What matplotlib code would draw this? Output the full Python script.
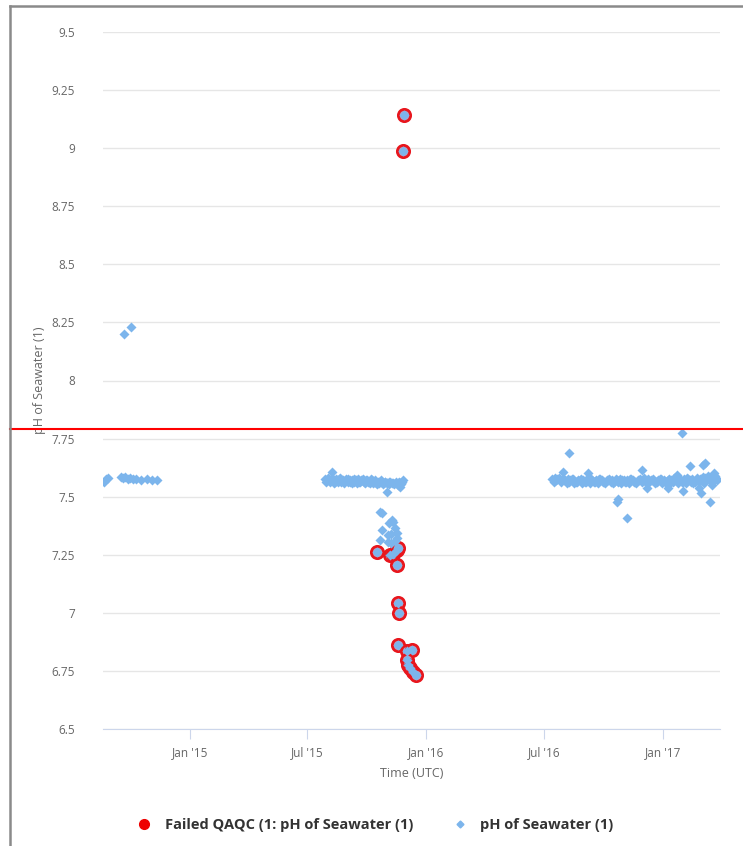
import matplotlib
matplotlib.use("Agg")
import matplotlib.pyplot as plt
import matplotlib.dates as mdates
from matplotlib.lines import Line2D
from matplotlib.ticker import FuncFormatter, MultipleLocator
import numpy as np
import pandas as pd

plt.rcParams['font.family'] = ['Open Sans', 'DejaVu Sans']

# pH of Seawater (1) -- deployment 1
dep1_dates = ['2014-08-22', '2014-08-25', '2014-08-28', '2014-09-17', '2014-09-20',
              '2014-09-22', '2014-09-23', '2014-09-27', '2014-10-01', '2014-10-02',
              '2014-10-05', '2014-10-10', '2014-10-18', '2014-10-27', '2014-11-04',
              '2014-11-12']
dep1_ph = [7.565, 7.575, 7.58, 7.585, 7.58,
           8.20, 7.585, 7.575, 7.58, 8.23,
           7.575, 7.575, 7.57, 7.575, 7.57,
           7.57]

# deployment 2
dep2_dates = ['2015-07-29', '2015-08-01', '2015-08-04', '2015-08-07', '2015-08-08',
              '2015-08-10', '2015-08-13', '2015-08-16', '2015-08-19', '2015-08-22',
              '2015-08-25', '2015-08-28', '2015-08-31', '2015-09-03', '2015-09-06',
              '2015-09-09', '2015-09-12', '2015-09-15', '2015-09-18', '2015-09-21',
              '2015-09-24', '2015-09-27', '2015-09-30', '2015-10-03', '2015-10-06',
              '2015-10-09', '2015-10-12', '2015-10-15', '2015-10-18', '2015-10-21',
              '2015-10-22', '2015-10-24', '2015-10-25', '2015-10-27', '2015-10-30',
              '2015-11-01', '2015-11-02', '2015-11-03', '2015-11-05', '2015-11-05',
              '2015-11-08', '2015-11-09', '2015-11-11', '2015-11-11', '2015-11-14',
              '2015-11-17', '2015-11-18', '2015-11-20', '2015-11-21', '2015-11-23',
              '2015-11-24', '2015-11-26', '2015-10-22', '2015-10-25', '2015-11-03',
              '2015-11-08', '2015-11-14', '2015-11-17']
dep2_ph = [7.575, 7.57, 7.575, 7.57, 7.606,
           7.575, 7.565, 7.57, 7.575, 7.565,
           7.57, 7.565, 7.57, 7.575, 7.565,
           7.57, 7.565, 7.57, 7.575, 7.565,
           7.57, 7.565, 7.57, 7.565, 7.56,
           7.57, 7.565, 7.56, 7.565, 7.56,
           7.434, 7.565, 7.43, 7.56, 7.565,
           7.52, 7.56, 7.305, 7.387, 7.565,
           7.34, 7.40, 7.39, 7.56, 7.365,
           7.32, 7.56, 7.565, 7.54, 7.56,
           7.555, 7.57, 7.313, 7.356, 7.335,
           7.30, 7.31, 7.345]
dep2b_dates = ['2015-07-31', '2015-08-03', '2015-08-06', '2015-08-09', '2015-08-12',
               '2015-08-15', '2015-08-18', '2015-08-21', '2015-08-24', '2015-08-27',
               '2015-08-30', '2015-09-02', '2015-09-05', '2015-09-08', '2015-09-11',
               '2015-09-14', '2015-09-17', '2015-09-20', '2015-09-23', '2015-09-26',
               '2015-09-29', '2015-10-02', '2015-10-05', '2015-10-08', '2015-10-11',
               '2015-10-14', '2015-10-17', '2015-10-20', '2015-10-23', '2015-10-26',
               '2015-10-29', '2015-11-01', '2015-11-04', '2015-11-07', '2015-11-10',
               '2015-11-13', '2015-11-16', '2015-11-19', '2015-11-22', '2015-11-25']
dep2b_ph = [7.565, 7.58, 7.565, 7.575, 7.56,
            7.575, 7.565, 7.58, 7.57, 7.56,
            7.575, 7.565, 7.57, 7.56, 7.575,
            7.57, 7.56, 7.565, 7.57, 7.575,
            7.56, 7.57, 7.565, 7.575, 7.56,
            7.57, 7.555, 7.565, 7.57, 7.555,
            7.565, 7.56, 7.555, 7.565, 7.56,
            7.555, 7.565, 7.55, 7.56, 7.565]

# deployment 3
dep3_dates = ['2016-07-14', '2016-07-18', '2016-07-22', '2016-07-26', '2016-07-30',
              '2016-07-31', '2016-08-03', '2016-08-07', '2016-08-09', '2016-08-11',
              '2016-08-15', '2016-08-19', '2016-08-23', '2016-08-27', '2016-08-31',
              '2016-09-04', '2016-09-07', '2016-09-08', '2016-09-12', '2016-09-16',
              '2016-09-20', '2016-09-24', '2016-09-28', '2016-10-02', '2016-10-06',
              '2016-10-10', '2016-10-14', '2016-10-18', '2016-10-22', '2016-10-22',
              '2016-10-24', '2016-10-26', '2016-10-30', '2016-11-03', '2016-11-07',
              '2016-11-07', '2016-11-11', '2016-11-15', '2016-11-19', '2016-11-23',
              '2016-11-27', '2016-11-30', '2016-12-01', '2016-12-05', '2016-12-08',
              '2016-12-09', '2016-12-13', '2016-12-17', '2016-12-21', '2016-12-25',
              '2016-12-29', '2017-01-02', '2017-01-06', '2017-01-08', '2017-01-10',
              '2017-01-14', '2017-01-18', '2017-01-22', '2017-01-23', '2017-01-26',
              '2017-01-30', '2017-01-31', '2017-02-01', '2017-02-03', '2017-02-07',
              '2017-02-11', '2017-02-11', '2017-02-15', '2017-02-19', '2017-02-23',
              '2017-02-25', '2017-02-27', '2017-02-28', '2017-03-03', '2017-03-04',
              '2017-03-07', '2017-03-07', '2017-03-11', '2017-03-15', '2017-03-15',
              '2017-03-18', '2017-03-19', '2017-03-23', '2017-03-24']
dep3_ph = [7.575, 7.58, 7.575, 7.57, 7.575,
           7.606, 7.57, 7.575, 7.69, 7.57,
           7.575, 7.565, 7.57, 7.575, 7.57,
           7.565, 7.60, 7.57, 7.575, 7.565,
           7.57, 7.575, 7.57, 7.565, 7.57,
           7.575, 7.57, 7.565, 7.475, 7.57,
           7.49, 7.575, 7.57, 7.565, 7.41,
           7.57, 7.575, 7.57, 7.565, 7.57,
           7.575, 7.615, 7.57, 7.565, 7.537,
           7.575, 7.57, 7.575, 7.565, 7.57,
           7.575, 7.57, 7.565, 7.537, 7.575,
           7.57, 7.58, 7.575, 7.593, 7.57,
           7.565, 7.774, 7.524, 7.575, 7.58,
           7.632, 7.57, 7.575, 7.565, 7.58,
           7.537, 7.575, 7.516, 7.585, 7.636,
           7.645, 7.58, 7.59, 7.477, 7.575,
           7.55, 7.585, 7.59, 7.58]
dep3b_dates = ['2016-07-16', '2016-07-20', '2016-07-24', '2016-07-28', '2016-08-01',
               '2016-08-05', '2016-08-09', '2016-08-13', '2016-08-17', '2016-08-21',
               '2016-08-25', '2016-08-29', '2016-09-02', '2016-09-06', '2016-09-10',
               '2016-09-14', '2016-09-18', '2016-09-22', '2016-09-26', '2016-09-30',
               '2016-10-04', '2016-10-08', '2016-10-12', '2016-10-16', '2016-10-20',
               '2016-10-24', '2016-10-28', '2016-11-01', '2016-11-05', '2016-11-09',
               '2016-11-13', '2016-11-17', '2016-11-21', '2016-11-25', '2016-11-29',
               '2016-12-03', '2016-12-07', '2016-12-11', '2016-12-15', '2016-12-19',
               '2016-12-23', '2016-12-27', '2016-12-31', '2017-01-04', '2017-01-08',
               '2017-01-12', '2017-01-16', '2017-01-20', '2017-01-24', '2017-01-28',
               '2017-02-01', '2017-02-05', '2017-02-09', '2017-02-13', '2017-02-17',
               '2017-02-21', '2017-02-25', '2017-03-01', '2017-03-05', '2017-03-09',
               '2017-03-13', '2017-03-17', '2017-03-21', '2017-03-25']
dep3b_ph = [7.565, 7.57, 7.58, 7.565, 7.57,
            7.56, 7.565, 7.575, 7.56, 7.565,
            7.57, 7.56, 7.565, 7.575, 7.56,
            7.57, 7.565, 7.56, 7.575, 7.565,
            7.56, 7.57, 7.565, 7.56, 7.575,
            7.565, 7.56, 7.57, 7.565, 7.56,
            7.575, 7.565, 7.56, 7.57, 7.565,
            7.58, 7.56, 7.565, 7.57, 7.56,
            7.565, 7.575, 7.56, 7.565, 7.57,
            7.56, 7.565, 7.575, 7.56, 7.57,
            7.565, 7.56, 7.575, 7.565, 7.56,
            7.57, 7.565, 7.575, 7.56, 7.57,
            7.58, 7.565, 7.6, 7.57]

# Failed QAQC (1: pH of Seawater (1)
fail_dates = ['2015-10-17', '2015-11-06', '2015-11-11', '2015-11-17', '2015-11-18',
              '2015-11-17', '2015-11-18', '2015-11-20', '2015-11-18', '2015-12-02',
              '2015-12-10', '2015-12-02', '2015-12-04', '2015-12-07', '2015-12-12',
              '2015-12-16', '2015-11-28', '2015-11-26']
fail_ph = [7.262, 7.249, 7.255, 7.27, 7.28,
           7.206, 7.042, 6.999, 6.862, 6.836,
           6.84, 6.797, 6.775, 6.762, 6.745,
           6.732, 9.143, 8.988]

qc_limit = 7.79

W, H = 743, 846
fig = plt.figure(figsize=(W / 100, H / 100), dpi=100)
ax = fig.add_axes([103 / W, 1 - 729 / H, 617 / W, 697 / H])

ph_dates = pd.to_datetime(dep1_dates + dep2_dates + dep2b_dates + dep3_dates
                          + dep3b_dates + fail_dates)
ph_vals = np.array(dep1_ph + dep2_ph + dep2b_ph + dep3_ph + dep3b_ph + fail_ph)

ax.scatter(pd.to_datetime(fail_dates), fail_ph, s=78, marker='o',
           facecolor='#a9a9cf', edgecolor='#e8161d', linewidth=2.0, zorder=3)
ax.scatter(ph_dates, ph_vals, s=26, marker='D', color='#7cb5ec',
           linewidth=0, zorder=4)

ax.axhline(qc_limit, xmin=(10 - 103) / 617, xmax=(W - 103) / 617,
           color='#ff0000', lw=1.5, clip_on=False, zorder=5)

ax.set_ylim(6.5, 9.5)
ax.set_xlim(pd.Timestamp('2014-08-20'), pd.Timestamp('2017-03-30'))
ax.yaxis.set_major_locator(MultipleLocator(0.25))
ax.yaxis.set_major_formatter(FuncFormatter(lambda v, p: '{:g}'.format(v)))
ax.xaxis.set_major_locator(mdates.MonthLocator(bymonth=[1, 7]))
ax.xaxis.set_major_formatter(mdates.DateFormatter("%b '%y"))

ax.grid(axis='y', color='#e6e6e6', lw=1)
ax.set_axisbelow(True)
for side in ['left', 'right', 'top']:
    ax.spines[side].set_visible(False)
ax.spines['bottom'].set_color('#ccd6eb')
ax.tick_params(axis='y', length=0, pad=20, labelsize=8.5, labelcolor='#666666')
ax.tick_params(axis='x', length=7, color='#ccd6eb', pad=5, labelsize=8.5,
               labelcolor='#666666')

ax.set_xlabel('Time (UTC)', fontsize=9, color='#666666', labelpad=6)
ax.set_ylabel('pH of Seawater (1)', fontsize=9, color='#666666')
ax.yaxis.set_label_coords((46 - 103) / 617, 0.5)

# outer frame on left and top
fig.add_artist(Line2D([10 / W, 10 / W], [0, 1 - 6 / H], color='#8a8a8a', lw=1.8))
fig.add_artist(Line2D([10 / W, 1], [1 - 6 / H, 1 - 6 / H], color='#8a8a8a', lw=1.8))

handles = [Line2D([], [], marker='o', ls='none', color='#ee0000', markersize=7),
           Line2D([], [], marker='D', ls='none', color='#7cb5ec', markersize=3.5)]
labels = ['Failed QAQC (1: pH of Seawater (1)', 'pH of Seawater (1)']
fig.legend(handles, labels, loc='center', bbox_to_anchor=(0.5, 1 - 825 / H),
           ncol=2, frameon=False, handletextpad=0.4, columnspacing=2.2,
           prop={'weight': 'bold', 'size': 10.5}, labelcolor='#333333')

fig.savefig('out.png', dpi=100)
